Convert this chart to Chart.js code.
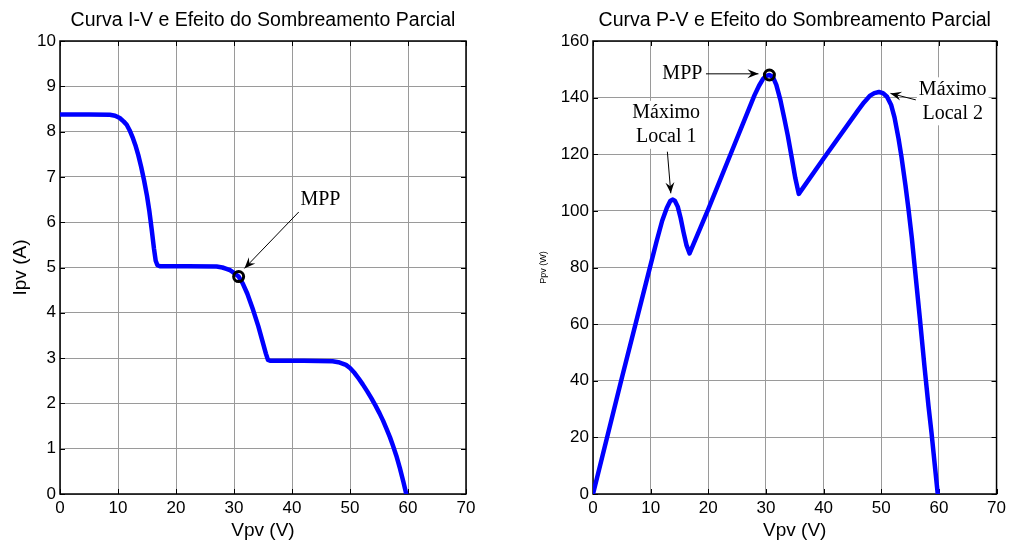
<!DOCTYPE html>
<html><head><meta charset="utf-8">
<script src="https://cdn.jsdelivr.net/npm/chart.js@4"></script>
<style>
html,body{margin:0;padding:0;background:#fff;}
#wrap{position:relative;width:1010px;height:542px;overflow:hidden;}
.c{position:absolute;top:0;width:505px;height:542px;}
</style></head><body>
<div id="wrap">
<div class="c" style="left:0"><canvas id="iv" width="505" height="542"></canvas></div>
<div class="c" style="left:505px"><canvas id="pv" width="505" height="542"></canvas></div>
</div>
<script>
// ---- data ----
const ivVoltage = [0, 5, 8.6, 9.5, 10.3, 11, 11.5, 12, 12.5, 13, 13.5, 14, 14.5, 15, 15.4, 15.8, 16.2, 16.5, 16.8, 17.2, 22, 27, 28, 28.7, 29.3, 30, 30.8, 31.5, 32.3, 33.3, 34.2, 35.0, 35.5, 35.85, 36.3, 42, 47, 48, 48.7, 49.3, 50, 50.8, 51.5, 52.2, 53, 53.7, 54.4, 55.1, 55.7, 56.3, 56.9, 57.4, 58, 58.6, 59.2, 59.7];
const ivCurrent = [8.38, 8.38, 8.37, 8.35, 8.3, 8.22, 8.15, 8.03, 7.88, 7.7, 7.48, 7.22, 6.92, 6.58, 6.25, 5.85, 5.42, 5.15, 5.05, 5.03, 5.03, 5.02, 5.0, 4.97, 4.94, 4.88, 4.8, 4.65, 4.42, 4.06, 3.7, 3.33, 3.1, 2.96, 2.94, 2.94, 2.93, 2.91, 2.88, 2.85, 2.78, 2.67, 2.55, 2.42, 2.26, 2.11, 1.95, 1.78, 1.62, 1.44, 1.25, 1.07, 0.84, 0.57, 0.27, 0.0];

const pvVoltage = [0, 5, 10, 11, 12, 12.8, 13.4, 13.8, 14.2, 14.7, 15.2, 15.7, 16.2, 16.75, 18, 20, 24, 28, 28.8, 29.5, 30, 30.6, 31.2, 31.8, 32.5, 33.2, 33.8, 34.5, 35.1, 35.7, 40, 46, 47, 48, 48.8, 49.6, 50.3, 51, 51.7, 52.3, 53, 53.5, 54.2, 54.7, 55.3, 55.8, 56.7, 57.5, 58.2, 58.7, 59.3, 59.8];
const pvPower   = [0, 41, 81, 89, 96.5, 101, 103.5, 104, 103.6, 101.5, 97.5, 92.5, 88, 85, 91, 100.6, 120.7, 140.8, 144.2, 146.6, 147.6, 148, 147.3, 144.5, 139.2, 132.5, 126.5, 118.5, 111.5, 106, 118.5, 135.6, 138.3, 140.6, 141.6, 142, 141.6, 140.3, 137.5, 133, 125.5, 119.2, 109, 101, 90.5, 80.3, 62, 45, 31, 22, 10, 0];

const mppIV = [30.8, 4.8];
const mppPV = [30.6, 148];

const xTicks = [0, 10, 20, 30, 40, 50, 60, 70];
const ivYTicks = [0, 1, 2, 3, 4, 5, 6, 7, 8, 9, 10];
const pvYTicks = [0, 20, 40, 60, 80, 100, 120, 140, 160];

const ivTitle = 'Curva I-V e Efeito do Sombreamento Parcial';
const pvTitle = 'Curva P-V e Efeito do Sombreamento Parcial';

// annotations (data coordinates)
const ivNotes = [
  {lines: ['MPP'], at: [44.9, 6.49], arrow: [[41.2, 6.23], [31.8, 4.98]]}
];
const pvNotes = [
  {lines: ['MPP'], at: [15.5, 148.4], arrow: [[19.6, 148.4], [28.7, 148.4]]},
  {lines: ['Máximo', 'Local 1'], at: [12.7, 130.4], arrow: [[12.9, 120.9], [13.5, 106.2]]},
  {lines: ['Máximo', 'Local 2'], at: [62.4, 138.7], arrow: [[56.0, 139.2], [51.6, 141.5]]}
];

const SANS = '"Liberation Sans", Arial, Helvetica, sans-serif';
const SERIF = '"Liberation Serif", "Times New Roman", serif';

const framePlugin = {
  id: 'frame',
  beforeDatasetsDraw(chart) {
    const {ctx, chartArea: a, scales: {x, y}} = chart;
    ctx.save();
    ctx.strokeStyle = '#000';
    ctx.lineWidth = 1.5;
    ctx.strokeRect(a.left, a.top, a.right - a.left, a.bottom - a.top);
    ctx.lineWidth = 1;
    const L = 5;
    ctx.beginPath();
    x.ticks.forEach(t => {
      const p = Math.round(x.getPixelForValue(t.value)) + 0.5;
      ctx.moveTo(p, a.bottom); ctx.lineTo(p, a.bottom - L);
      ctx.moveTo(p, a.top); ctx.lineTo(p, a.top + L);
    });
    y.ticks.forEach(t => {
      const p = Math.round(y.getPixelForValue(t.value)) + 0.5;
      ctx.moveTo(a.left, p); ctx.lineTo(a.left + L, p);
      ctx.moveTo(a.right, p); ctx.lineTo(a.right - L, p);
    });
    ctx.stroke();
    ctx.restore();
  }
};

const notesPlugin = {
  id: 'notes',
  afterDraw(chart, args, opts) {
    const {ctx, scales: {x, y}} = chart;
    ctx.save();
    (opts.items || []).forEach(n => {
      const x0 = x.getPixelForValue(n.arrow[0][0]), y0 = y.getPixelForValue(n.arrow[0][1]);
      const x1 = x.getPixelForValue(n.arrow[1][0]), y1 = y.getPixelForValue(n.arrow[1][1]);
      ctx.strokeStyle = '#000'; ctx.fillStyle = '#000'; ctx.lineWidth = 1;
      ctx.beginPath(); ctx.moveTo(x0, y0); ctx.lineTo(x1, y1); ctx.stroke();
      const ang = Math.atan2(y1 - y0, x1 - x0);
      const len = 11, w = 4.5, notch = 7;
      const bx = x1 - len * Math.cos(ang), by = y1 - len * Math.sin(ang);
      const nx = x1 - notch * Math.cos(ang), ny = y1 - notch * Math.sin(ang);
      ctx.beginPath();
      ctx.moveTo(x1, y1);
      ctx.lineTo(bx + w * Math.sin(ang), by - w * Math.cos(ang));
      ctx.lineTo(nx, ny);
      ctx.lineTo(bx - w * Math.sin(ang), by + w * Math.cos(ang));
      ctx.closePath(); ctx.fill();
      ctx.font = '20px ' + SERIF;
      ctx.textAlign = 'center'; ctx.textBaseline = 'middle';
      const cx = x.getPixelForValue(n.at[0]), cy = y.getPixelForValue(n.at[1]);
      const lh = 24;
      const h = lh * n.lines.length;
      let wmax = 0;
      n.lines.forEach(t => wmax = Math.max(wmax, ctx.measureText(t).width));
      ctx.fillStyle = '#fff';
      ctx.fillRect(cx - wmax / 2 - 2, cy - h / 2, wmax + 4, h);
      ctx.fillStyle = '#000';
      n.lines.forEach((t, k) => ctx.fillText(t, cx, cy - h / 2 + lh * (k + 0.5)));
    });
    ctx.restore();
  }
};

function makeChart(id, xs, ys, mpp, yTicks, yMax, title, yLabel, yLabelSize, yLabelPad, axisW, padRight, notes) {
  return new Chart(document.getElementById(id), {
    type: 'scatter',
    data: {
      datasets: [
        {
          data: xs.map((v, k) => ({x: v, y: ys[k]})),
          showLine: true, borderColor: '#0000ff', borderWidth: 4.5,
          pointRadius: 0, tension: 0, borderJoinStyle: 'round', borderCapStyle: 'round', fill: false, order: 2
        },
        {
          data: [{x: mpp[0], y: mpp[1]}],
          showLine: false, pointRadius: 5, pointBorderWidth: 3,
          pointBorderColor: '#000', pointBackgroundColor: 'rgba(0,0,0,0)', order: 1
        }
      ]
    },
    options: {
      responsive: false, animation: false, devicePixelRatio: 1,
      layout: {padding: {left: 0, right: padRight, top: 0, bottom: 0}},
      plugins: {
        legend: {display: false}, tooltip: {enabled: false},
        title: {display: true, text: title, color: '#000', fullSize: false,
                font: {family: SANS, size: 19.5, weight: 'normal'},
                padding: {top: 9, bottom: 8.6}},
        notes: {items: notes}
      },
      scales: {
        x: {
          type: 'linear', min: 0, max: 70,
          afterBuildTicks: s => { s.ticks = xTicks.map(v => ({value: v})); },
          afterFit: s => { s.height = 48; },
          ticks: {color: '#000', font: {family: SANS, size: 17}, padding: 4, maxRotation: 0, autoSkip: false},
          grid: {color: '#9a9a9a', lineWidth: 1, drawTicks: false},
          border: {display: false},
          title: {display: true, text: 'Vpv (V)', color: '#000', font: {family: SANS, size: 19}, padding: {top: 0, bottom: 0}}
        },
        y: {
          type: 'linear', min: 0, max: yMax,
          afterBuildTicks: s => { s.ticks = yTicks.map(v => ({value: v})); },
          afterFit: s => { s.width = axisW; },
          ticks: {color: '#000', font: {family: SANS, size: 17}, padding: 4, autoSkip: false},
          grid: {color: '#9a9a9a', lineWidth: 1, drawTicks: false},
          border: {display: false},
          title: {display: true, text: yLabel, color: '#000', font: {family: SANS, size: yLabelSize}, padding: {top: yLabelPad, bottom: 0}}
        }
      }
    },
    plugins: [framePlugin, notesPlugin]
  });
}

makeChart('iv', ivVoltage, ivCurrent, mppIV, ivYTicks, 10, ivTitle, 'Ipv (A)', 19, 9, 60, 39, ivNotes);
makeChart('pv', pvVoltage, pvPower, mppPV, pvYTicks, 160, pvTitle, 'Ppv (W)', 9, 33, 88, 11, pvNotes);
</script>
</body></html>
